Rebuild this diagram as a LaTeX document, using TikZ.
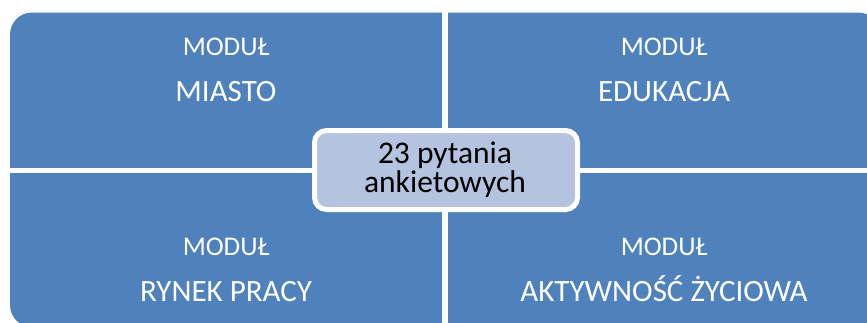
\documentclass[tikz,border=0pt]{standalone}
\usepackage{fontspec}
\setmainfont{Carlito}
\usetikzlibrary{positioning}
\definecolor{modblue}{HTML}{4F81BD}
\definecolor{corelight}{HTML}{B4C3DF}
\tikzset{
  modhead/.style={anchor=base, text=white, font=\fontsize{27}{27}\selectfont},
  modname/.style={anchor=base, text=white, font=\fontsize{31}{31}\selectfont},
  coreline/.style={anchor=base, text=black, font=\fontsize{31.5}{31.5}\selectfont},
  corebox/.style={draw=white, line width=5pt, fill=corelight, rounded corners=12pt,
                  minimum width=263pt, minimum height=79pt, inner sep=0pt}
}
\begin{document}
\begin{tikzpicture}[x=1pt,y=-1pt]
\useasboundingbox (0,0) rectangle (867,322);
\clip (0,0) rectangle (867,322);
% four modules
\fill[modblue, rounded corners=22pt] (10,12.5) rectangle (880,327);
\draw[white, line width=6pt] (445,0) -- (445,330);
\draw[white, line width=5pt] (0,170.5) -- (880,170.5);

\node[modhead] (miastoh) at (226,55) {MODUŁ};
\node[modname] (miasto) at (226,101) {MIASTO};
\node[modhead] (edukacjah) at (664,55) {MODUŁ};
\node[modname] (edukacja) at (664,101) {EDUKACJA};
\node[modhead] (rynekh) at (226,255) {MODUŁ};
\node[modname] (rynek) at (226,301.5) {RYNEK PRACY};
\node[modhead] (aktywh) at (664,255) {MODUŁ};
\node[modname] (aktyw) at (664,301.5) {AKTYWNOŚĆ ŻYCIOWA};

% centre
\node[corebox] (core) at (446,170) {};
\node[coreline] (corea) at (445,163) {23 pytania};
\node[coreline] (coreb) at (445,192) {ankietowych};
\end{tikzpicture}
\end{document}
